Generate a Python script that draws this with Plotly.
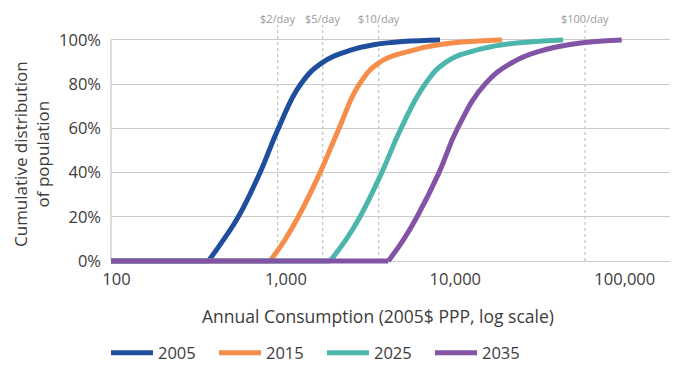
import math
import plotly.graph_objects as go

# ---- data ----
years = ["2005", "2015", "2025", "2035"]
colors = ["#1F4E9D", "#F78D4B", "#4DB6AC", "#8353A5"]

# first two points of each series are the flat 0% stretch
x_2005 = [93, 349, 432, 524, 704, 903, 1222, 1657, 2327, 3359, 8122]
y_2005 = [0, 0, 10, 20, 40, 60, 80, 90, 95, 98, 100]

x_2015 = [93, 806, 995, 1184, 1591, 2059, 2715, 3595, 5403, 8122, 18870]
y_2015 = [0, 0, 10, 20, 40, 60, 80, 90, 95, 98, 100]

x_2025 = [93, 1822, 2280, 2739, 3679, 4782, 6625, 8813, 12720, 19650, 43220]
y_2025 = [0, 0, 10, 20, 40, 60, 80, 90, 95, 98, 100]

x_2035 = [93, 4023, 4981, 5943, 8013, 10303, 14970, 21910, 31620, 47520, 95940]
y_2035 = [0, 0, 10, 20, 40, 60, 80, 90, 95, 98, 100]

# reference thresholds (dotted lines), positions as drawn
threshold_labels = ["$2/day", "$5/day", "$10/day", "$100/day"]
threshold_values = [895, 1650, 3532, 58270]

x_tick_vals = [100, 1000, 10000, 100000]
x_tick_text = ["100", "1,000", "10,000", "100,000"]
y_tick_vals = [0, 20, 40, 60, 80, 100]
y_tick_text = ["0%", "20%", "40%", "60%", "80%", "100%"]

series_x = [x_2005, x_2015, x_2025, x_2035]
series_y = [y_2005, y_2015, y_2025, y_2035]

FONT = "Open Sans"
TXT = "#3c3c3c"

fig = go.Figure()
for name, xs, ys, c in zip(years, series_x, series_y, colors):
    # flat part at 0%
    fig.add_trace(go.Scatter(
        x=xs[:2], y=ys[:2], mode="lines", legendgroup=name, showlegend=False,
        line=dict(color=c, width=5), hoverinfo="skip",
    ))
    # rising part
    fig.add_trace(go.Scatter(
        x=xs[1:], y=ys[1:], name=name, mode="lines", legendgroup=name,
        line=dict(color=c, width=5, shape="spline", smoothing=1.3),
        hoverinfo="skip",
    ))

# the page body has an 8px default margin: work in page pixels, convert here
OFF = 8
W, H = 678 - OFF, 365 - OFF
ml, mr, mt, mb = 111 - OFF, 0, 35 - OFF, 99
PW = W - ml - mr
PH = H - mt - mb
x_range = [1.968, 5.314]
y_range = [-2.26, 102.26]


def py(page_y):
    return (H - mb - (page_y - OFF)) / PH


def px(page_x):
    return (page_x - OFF - ml) / PW


shapes = []
annotations = []
for lab, v in zip(threshold_labels, threshold_values):
    shapes.append(dict(type="line", xref="x", yref="paper",
                       x0=v, x1=v, y0=py(261), y1=py(25),
                       line=dict(color="#b5b5b5", width=1, dash="dot"),
                       layer="below"))
    annotations.append(dict(xref="x", yref="paper", x=math.log10(v), y=py(19),
                            text=lab, showarrow=False,
                            font=dict(family=FONT, size=11, color="#9a9a9a"),
                            xanchor="center", yanchor="middle"))

# y axis line (0%..100%)
shapes.append(dict(type="line", xref="paper", yref="y", x0=0, x1=0, y0=0, y1=100,
                   line=dict(color="#b9b9b9", width=1), layer="below"))

# axis titles
annotations.append(dict(xref="paper", yref="paper",
                        x=px(377.7), y=py(316),
                        text="Annual Consumption (2005$ PPP, log scale)", showarrow=False,
                        font=dict(family=FONT, size=17.5, color=TXT),
                        xanchor="center", yanchor="middle"))
annotations.append(dict(xref="paper", yref="paper",
                        x=px(31), y=py(154),
                        text="Cumulative distribution<br>of population", showarrow=False,
                        textangle=-90,
                        font=dict(family=FONT, size=17, color=TXT),
                        xanchor="center", yanchor="middle"))

fig.update_layout(
    template="none",
    width=W, height=H,
    margin=dict(l=ml, r=mr, t=mt, b=mb, pad=0, autoexpand=False),
    paper_bgcolor="white", plot_bgcolor="white",
    font=dict(family=FONT, size=16.5, color=TXT),
    showlegend=True,
    legend=dict(orientation="h", x=px(106), xanchor="left",
                y=py(353), yanchor="middle",
                font=dict(family=FONT, size=16.5, color=TXT),
                itemwidth=42, entrywidth=51, entrywidthmode="pixels",
                tracegroupgap=0, bgcolor="rgba(0,0,0,0)", borderwidth=0),
    xaxis=dict(type="log", range=x_range, tickvals=x_tick_vals, ticktext=x_tick_text,
               showgrid=False, zeroline=False, showline=False, ticks="",
               automargin=False,
               tickfont=dict(family=FONT, size=16.5, color=TXT),
               ticklabelstandoff=1, fixedrange=True),
    yaxis=dict(range=y_range, tickvals=y_tick_vals, ticktext=y_tick_text,
               showgrid=True, gridcolor="#cacaca", gridwidth=1,
               zeroline=False, showline=False, ticks="", automargin=False,
               tickfont=dict(family=FONT, size=16.5, color=TXT),
               ticklabelstandoff=9, fixedrange=True),
    shapes=shapes,
    annotations=annotations,
)

fig.write_html("out.html")
